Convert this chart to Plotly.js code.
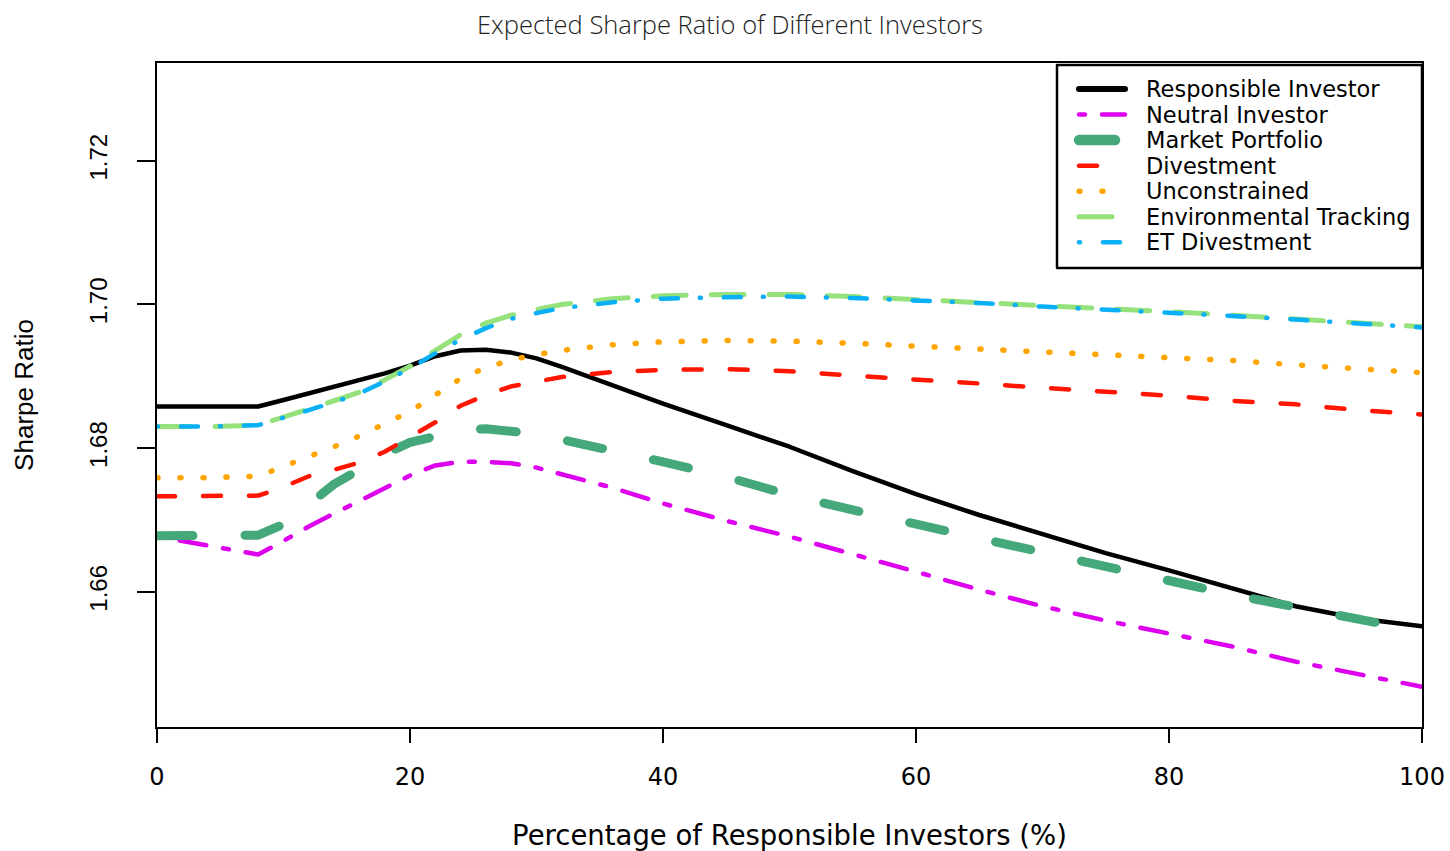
<!DOCTYPE html>
<html>
<head>
<meta charset="utf-8">
<script src="https://cdn.plot.ly/plotly-3.0.1.min.js"></script>
<style>
  html, body { margin: 0; padding: 0; background: #fff; }
  #chart { width: 1450px; height: 851px; }
  /* rounded dash ends, as in the printed figure */
  .js-line, .shapelayer path { stroke-linecap: round; stroke-linejoin: round; }
</style>
</head>
<body>
<div id="chart"></div>
<script>
// Share of responsible investors in the market (%)
const pctResponsible = [0, 4, 8, 10, 12, 14, 16, 18, 20, 22, 24, 26, 28, 30, 32, 36, 40, 45, 50, 55, 60, 65, 70, 75, 80, 85, 90, 95, 100];

// Expected Sharpe ratio of each investor / portfolio
const responsibleInvestor = [1.6858, 1.6858, 1.6858, 1.6867, 1.6876, 1.6885, 1.6894, 1.6904, 1.6915, 1.6928, 1.6936, 1.6937, 1.6933, 1.6925, 1.6913, 1.6887, 1.6862, 1.6832, 1.6802, 1.6768, 1.6736, 1.6707, 1.6680, 1.6654, 1.6630, 1.6605, 1.6580, 1.6563, 1.6552];
const neutralInvestor = [1.6677, 1.6665, 1.6652, 1.6671, 1.6691, 1.6709, 1.6727, 1.6745, 1.6762, 1.6776, 1.6781, 1.6781, 1.6779, 1.6773, 1.6764, 1.6745, 1.6723, 1.6699, 1.6677, 1.6653, 1.6628, 1.6603, 1.6580, 1.6560, 1.6542, 1.6524, 1.6503, 1.6485, 1.6468];
const marketPortfolio = [1.6678, 1.6678, 1.6679, 1.6694, 1.6722, 1.6750, 1.6770, 1.6792, 1.6808, 1.6818, 1.6825, 1.6827, 1.6825, 1.6820, 1.6812, 1.6798, 1.6781, 1.6760, 1.6735, 1.6714, 1.6694, 1.6675, 1.6653, 1.6633, 1.6614, 1.6596, 1.6579, 1.6561, 1.6545];
const divestment = [1.6733, 1.6733, 1.6734, 1.6746, 1.6761, 1.6770, 1.6780, 1.6795, 1.6815, 1.6836, 1.6859, 1.6874, 1.6886, 1.6893, 1.6899, 1.6906, 1.6909, 1.6910, 1.6907, 1.6901, 1.6896, 1.6890, 1.6884, 1.6879, 1.6873, 1.6866, 1.6861, 1.6853, 1.6847];
const unconstrained = [1.6759, 1.6759, 1.6761, 1.6774, 1.6788, 1.6802, 1.6817, 1.6833, 1.6851, 1.6874, 1.6897, 1.6912, 1.6923, 1.6930, 1.6936, 1.6944, 1.6948, 1.6950, 1.6949, 1.6946, 1.6942, 1.6939, 1.6935, 1.6930, 1.6926, 1.6922, 1.6916, 1.6911, 1.6905];
const environmentalTracking = [1.6830, 1.6830, 1.6832, 1.6843, 1.6855, 1.6866, 1.6878, 1.6895, 1.6914, 1.6937, 1.6958, 1.6974, 1.6985, 1.6993, 1.7000, 1.7008, 1.7012, 1.7014, 1.7014, 1.7011, 1.7007, 1.7003, 1.6998, 1.6994, 1.6990, 1.6985, 1.6980, 1.6975, 1.6969];
const etDivestment = [1.6830, 1.6830, 1.6832, 1.6842, 1.6853, 1.6864, 1.6876, 1.6893, 1.6911, 1.6932, 1.6951, 1.6967, 1.6980, 1.6988, 1.6995, 1.7003, 1.7008, 1.7010, 1.7011, 1.7009, 1.7006, 1.7002, 1.6997, 1.6993, 1.6989, 1.6984, 1.6979, 1.6974, 1.6968];

const seriesNames = ['Responsible Investor', 'Neutral Investor', 'Market Portfolio', 'Divestment', 'Unconstrained', 'Environmental Tracking', 'ET Divestment'];
const seriesValues = [responsibleInvestor, neutralInvestor, marketPortfolio, divestment, unconstrained, environmentalTracking, etDivestment];

const xTicks = [0, 20, 40, 60, 80, 100];
const yTicks = [1.66, 1.68, 1.70, 1.72];

// line styles
const styles = [
  { color: '#000000', width: 4.5, dash: 'solid', legendWidth: 6 },
  { color: '#DD00EE', width: 4.5, dash: '6px,17px,27px,17px', legendWidth: 4.5 },
  { color: '#45A87A', width: 9, dash: '36px,52px', legendWidth: 10.5 },
  { color: '#FF1500', width: 4.5, dash: '18px,28px', legendWidth: 4.5 },
  { color: '#FFA500', width: 5.5, dash: '1px,22px', legendWidth: 5.5 },
  { color: '#95E27C', width: 5, dash: '33px,25px', legendWidth: 5 },
  { color: '#0AB0F5', width: 4.5, dash: '1px,23px,17px,22px', legendWidth: 4.5 }
];

const W = 1450, H = 851;
const M = { l: 157, r: 28, t: 63, b: 124 };
const plotW = W - M.l - M.r, plotH = H - M.t - M.b;
const px2paperX = p => (p - M.l) / plotW;
const px2paperY = p => (H - M.b - p) / plotH;

const traces = seriesValues.map((vals, i) => ({
  type: 'scatter',
  mode: 'lines',
  name: seriesNames[i],
  x: pctResponsible,
  y: vals,
  line: { color: styles[i].color, width: styles[i].width, dash: styles[i].dash, shape: 'linear' },
  hoverinfo: 'x+y+name'
}));

// legend box drawn in the top-right corner of the panel
const shapes = [{
  type: 'rect', xref: 'paper', yref: 'paper', layer: 'above',
  x0: px2paperX(1057), x1: px2paperX(1422), y0: px2paperY(268), y1: px2paperY(65),
  fillcolor: '#ffffff', line: { color: '#000000', width: 2.5 }
}];
const annotations = [];
const rowTop = 89, rowStep = 25.55;
seriesNames.forEach((name, i) => {
  const yy = px2paperY(rowTop + i * rowStep);
  shapes.push({
    type: 'line', xref: 'paper', yref: 'paper', layer: 'above',
    x0: px2paperX(1079), x1: px2paperX(1125), y0: yy, y1: yy,
    line: { color: styles[i].color, width: styles[i].legendWidth, dash: styles[i].dash }
  });
  annotations.push({
    xref: 'paper', yref: 'paper', x: px2paperX(1144), y: yy,
    xanchor: 'left', yanchor: 'middle', showarrow: false, text: name,
    font: { family: 'DejaVu Sans', size: 22.5, color: '#000000' }
  });
});

const layout = {
  width: W, height: H,
  margin: M,
  paper_bgcolor: '#ffffff', plot_bgcolor: '#ffffff',
  showlegend: false,
  title: {
    text: 'Expected Sharpe Ratio of Different Investors',
    font: { family: 'Open Sans', size: 25.5, color: '#222222', weight: 300 },
    x: 730 / W, xanchor: 'center', xref: 'container',
    y: 1 - 25 / H, yanchor: 'middle', yref: 'container'
  },
  xaxis: {
    range: [0, 100],
    tickvals: xTicks, ticktext: xTicks.map(String),
    ticks: 'outside', ticklen: 14, tickwidth: 2, tickcolor: '#000000',
    ticklabelstandoff: 13,
    tickfont: { family: 'DejaVu Sans', size: 24, color: '#000000' },
    showline: true, mirror: true, linecolor: '#000000', linewidth: 2,
    showgrid: false, zeroline: false, automargin: false,
    title: { text: 'Percentage of Responsible Investors (%)', standoff: 39,
             font: { family: 'DejaVu Sans', size: 27.5, color: '#000000' } }
  },
  yaxis: {
    range: [1.6412, 1.7336],
    tickvals: yTicks, ticktext: yTicks.map(v => v.toFixed(2)),
    tickangle: -90,
    ticks: 'outside', ticklen: 18, tickwidth: 2, tickcolor: '#000000',
    ticklabelstandoff: 20,
    tickfont: { family: 'Liberation Sans', size: 24, color: '#000000' },
    showline: true, mirror: true, linecolor: '#000000', linewidth: 2,
    showgrid: false, zeroline: false, automargin: false,
    title: { text: 'Sharpe Ratio', standoff: 44,
             font: { family: 'Liberation Sans', size: 26, color: '#000000' } }
  },
  shapes: shapes,
  annotations: annotations
};

Plotly.newPlot('chart', traces, layout, { displayModeBar: false, responsive: false, staticPlot: false });
</script>
</body>
</html>
